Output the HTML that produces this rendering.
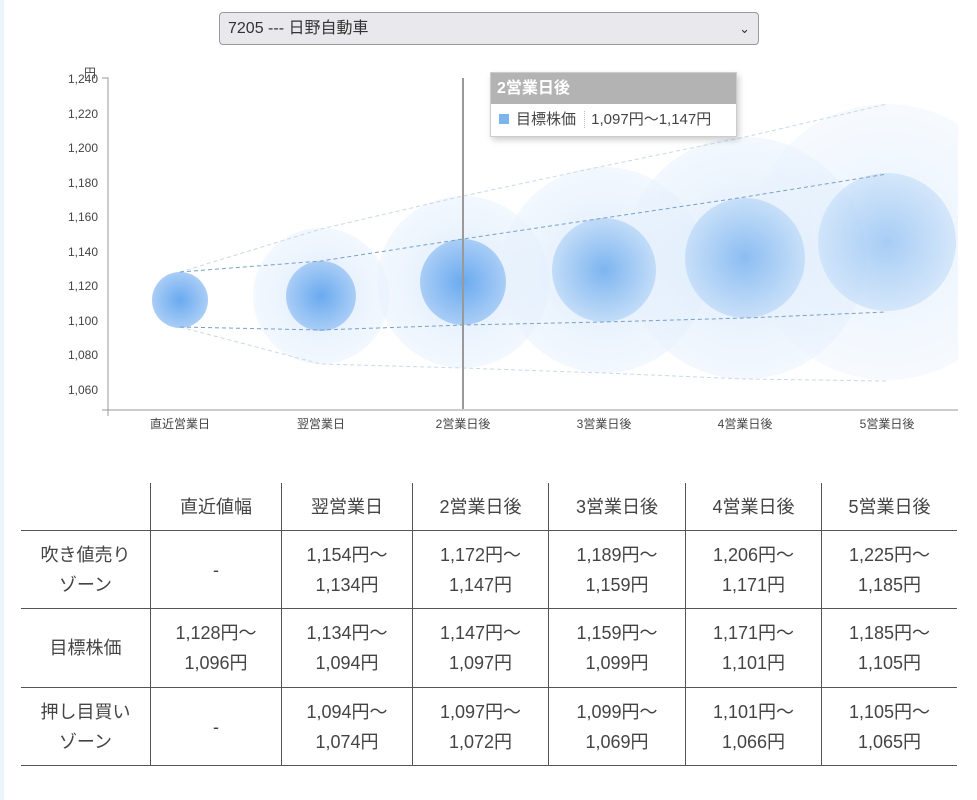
<!DOCTYPE html>
<html><head><meta charset="utf-8"><style>
body{margin:0;width:977px;height:800px;background:#fff;position:relative;overflow:hidden;font-family:"Liberation Sans","Noto Sans CJK JP",sans-serif;color:#333}
.strip{position:absolute;left:0;top:0;width:4px;height:800px;background:#eaf4fb}
.sel{position:absolute;left:219px;top:12px;width:540px;height:33px;border:1px solid #999;border-radius:4px;background:#e9e9ed;box-sizing:border-box;font-size:16px;line-height:31px;padding-left:8px;color:#333}
.sel span{position:absolute;right:8px;top:0;font-size:13px}
table{position:absolute;left:21px;top:483px;border-collapse:collapse;font-size:18px;color:#444}
td{border:1px solid #555;text-align:center;line-height:30px;padding:0}
tr td:first-child{border-left:none}
tr td:last-child{border-right:none}
tr:first-child td{border-top:none;height:47px}
.tip{position:absolute;left:490px;top:72px;width:247px;height:65px;border:1px solid #ccc;background:#fff;box-sizing:border-box;box-shadow:2px 3px 6px rgba(0,0,0,.2)}
.tip .h{background:#b3b3b3;color:#fff;font-weight:bold;font-size:16px;height:31px;line-height:31px;padding-left:6px}
.tip .r{font-size:15px;line-height:32px;color:#444;padding-left:8px}
</style></head><body>
<div class="strip"></div>
<div class="sel">7205 --- 日野自動車<span>&#8964;</span></div>
<svg width="977" height="440" style="position:absolute;left:0;top:0">
<defs>
<radialGradient id="in"><stop offset="0" stop-color="#6aaaf0"/><stop offset="1" stop-color="#a9cdf6"/></radialGradient>
<radialGradient id="in2"><stop offset="0" stop-color="#7db5f0"/><stop offset="1" stop-color="#c2dcf8"/></radialGradient>
<radialGradient id="out"><stop offset="0" stop-color="#d6e8fb" stop-opacity=".85"/><stop offset="1" stop-color="#e8f2fd" stop-opacity=".55"/></radialGradient>
<clipPath id="cp"><rect x="108" y="60" width="850" height="350"/></clipPath>
</defs>
<g font-size="12" fill="#444" text-anchor="end">
<text x="98" y="83">1,240</text><text x="98" y="118">1,220</text><text x="98" y="152">1,200</text><text x="98" y="187">1,180</text><text x="98" y="221">1,160</text><text x="98" y="256">1,140</text><text x="98" y="290">1,120</text><text x="98" y="325">1,100</text><text x="98" y="359">1,080</text><text x="98" y="394">1,060</text>
</g>
<text x="84" y="77" font-size="12" fill="#444">円</text>
<path d="M102 78H108V410M102 410H958M108 410V416" stroke="#999" fill="none"/>
<g clip-path="url(#cp)">
<circle cx="321" cy="296" r="68" fill="url(#out)"/>
<circle cx="463" cy="282" r="86" fill="url(#out)"/>
<circle cx="604" cy="270" r="103" fill="url(#out)"/>
<circle cx="745" cy="258" r="121" fill="url(#out)"/>
<circle cx="887" cy="242" r="138" fill="url(#out)" opacity=".7"/>
<circle cx="180" cy="300" r="28" fill="url(#in)"/>
<circle cx="321" cy="296" r="35" fill="url(#in)"/>
<circle cx="463" cy="282" r="43" fill="url(#in)"/>
<circle cx="604" cy="270" r="52" fill="url(#in2)"/>
<circle cx="745" cy="258" r="60" fill="url(#in2)" opacity=".85"/>
<circle cx="887" cy="242" r="69" fill="url(#in2)" opacity=".6"/>
</g>
<g fill="none" stroke-dasharray="4 3">
<polyline points="180,272 321,229 463,196 604,166 745,137 887,104" stroke="#c8d8e8"/>
<polyline points="180,327 321,364 463,368 604,373 745,379 887,381" stroke="#c8d8e8"/>
<polyline points="180,272 321,261 463,239 604,218 745,197 887,174" stroke="#7aa0c8"/>
<polyline points="180,327 321,330 463,325 604,322 745,318 887,312" stroke="#7aa0c8"/>
</g>
<line x1="463" y1="78" x2="463" y2="409" stroke="#999" stroke-width="2"/>
<g font-size="12" fill="#444" text-anchor="middle">
<text x="180" y="428">直近営業日</text><text x="321" y="428">翌営業日</text><text x="463" y="428">2営業日後</text><text x="604" y="428">3営業日後</text><text x="745" y="428">4営業日後</text><text x="887" y="428">5営業日後</text>
</g>
</svg>
<div class="tip"><div class="h">2営業日後</div><div class="r"><span style="display:inline-block;width:10px;height:10px;background:#7cb5ec;margin-right:7px"></span>目標株価 <span style="border-left:1px dotted #bbb;padding-left:6px;margin-left:4px">1,097円～1,147円</span></div></div>
<table>
<tr><td style="width:129px"></td><td style="width:130px">直近値幅</td><td style="width:130px">翌営業日</td><td style="width:135px">2営業日後</td><td style="width:136px">3営業日後</td><td style="width:135px">4営業日後</td><td style="width:135px">5営業日後</td></tr>
<tr style="height:78px"><td>吹き値売り<br>ゾーン</td><td>-</td><td>1,154円～<br>1,134円</td><td>1,172円～<br>1,147円</td><td>1,189円～<br>1,159円</td><td>1,206円～<br>1,171円</td><td>1,225円～<br>1,185円</td></tr>
<tr style="height:79px"><td>目標株価</td><td>1,128円～<br>1,096円</td><td>1,134円～<br>1,094円</td><td>1,147円～<br>1,097円</td><td>1,159円～<br>1,099円</td><td>1,171円～<br>1,101円</td><td>1,185円～<br>1,105円</td></tr>
<tr style="height:78px"><td>押し目買い<br>ゾーン</td><td>-</td><td>1,094円～<br>1,074円</td><td>1,097円～<br>1,072円</td><td>1,099円～<br>1,069円</td><td>1,101円～<br>1,066円</td><td>1,105円～<br>1,065円</td></tr>
</table>
</body></html>
